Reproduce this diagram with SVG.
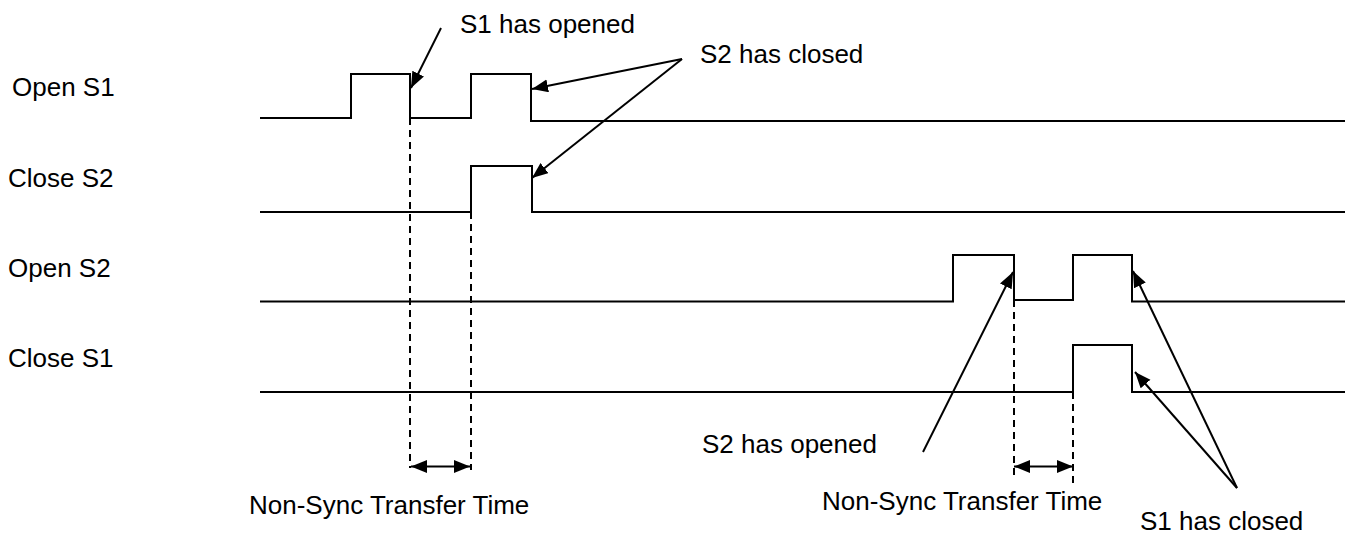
<svg xmlns="http://www.w3.org/2000/svg" width="1351" height="534" viewBox="0 0 1351 534">
<style>
.t{font-family:"Liberation Sans",Arial,sans-serif;font-size:26px;fill:#000}
.w{fill:none;stroke:#000;stroke-width:2}
.d{fill:none;stroke:#000;stroke-width:2;stroke-dasharray:7,5}
.a{fill:none;stroke:#000;stroke-width:2}
</style>
<defs>
<marker id="ah" markerUnits="userSpaceOnUse" markerWidth="18" markerHeight="14" refX="16" refY="6.5" orient="auto-start-reverse">
<path d="M0,0 L16,6.5 L0,13 z" fill="#000"/>
</marker>
</defs>
<rect width="1351" height="534" fill="#fff"/>
<g id="labels">
<text class="t" x="12" y="96">Open S1</text>
<text class="t" x="8" y="187">Close S2</text>
<text class="t" x="8" y="277">Open S2</text>
<text class="t" x="8" y="367">Close S1</text>
</g>
<g id="wave-open-s1"><path class="w" d="M260,118 H351 V74 H410 V118 H471 V74 H531 V121 H1345"/></g>
<g id="wave-close-s2"><path class="w" d="M260,212 H471 V166 H532 V212 H1345"/></g>
<g id="wave-open-s2"><path class="w" d="M260,301.5 H953 V255 H1014 V300 H1073 V255 H1132 V301.5 H1345"/></g>
<g id="wave-close-s1"><path class="w" d="M260,392 H1073 V345 H1132 V392 H1345"/></g>
<g id="connectors">
<line class="d" x1="410" y1="118" x2="410" y2="468"/>
<line class="d" x1="471" y1="212" x2="471" y2="470"/>
<line class="d" x1="1014" y1="300" x2="1014" y2="475"/>
<line class="d" x1="1073" y1="392" x2="1073" y2="483"/>
<line class="a" x1="411" y1="466.5" x2="470" y2="466.5" marker-start="url(#ah)" marker-end="url(#ah)"/>
<line class="a" x1="1014" y1="466.5" x2="1073" y2="466.5" marker-start="url(#ah)" marker-end="url(#ah)"/>
<line class="a" x1="441" y1="28" x2="411" y2="88" marker-end="url(#ah)"/>
<line class="a" x1="682" y1="59" x2="532" y2="89" marker-end="url(#ah)"/>
<line class="a" x1="682" y1="59" x2="532" y2="178" marker-end="url(#ah)"/>
<line class="a" x1="923" y1="452" x2="1013" y2="272" marker-end="url(#ah)"/>
<line class="a" x1="1237" y1="488" x2="1133" y2="271" marker-end="url(#ah)"/>
<line class="a" x1="1237" y1="488" x2="1135" y2="372" marker-end="url(#ah)"/>
</g>
<g id="annotations">
<text class="t" x="460" y="33">S1 has opened</text>
<text class="t" x="700" y="63">S2 has closed</text>
<text class="t" x="702" y="453">S2 has opened</text>
<text class="t" x="249" y="514">Non-Sync Transfer Time</text>
<text class="t" x="822" y="510">Non-Sync Transfer Time</text>
<text class="t" x="1140" y="530">S1 has closed</text>
</g>
</svg>
